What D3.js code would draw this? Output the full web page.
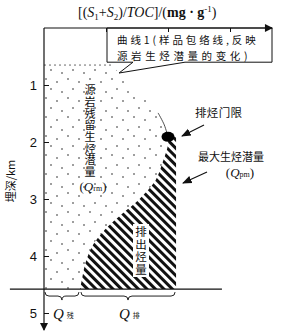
<!DOCTYPE html>
<html>
<head>
<meta charset="utf-8">
<script src="https://cdn.jsdelivr.net/npm/d3@7"></script>
<style>
  html, body { margin: 0; padding: 0; background: #fff; }
  #chart { width: 289px; height: 333px; }
  .cjk { font-family: "Noto Sans CJK SC", sans-serif; fill: #111; }
  .serif { font-family: "Liberation Serif", "DejaVu Serif", serif; fill: #111; }
  .vert { writing-mode: vertical-rl; text-orientation: upright; }
</style>
</head>
<body>
<div id="chart"></div>
<script>
// depth (km) of the points read along curve 1
var depthKm = [0.65, 0.79, 1.0, 1.23, 1.49, 1.70, 1.91, 2.05, 2.40, 2.67, 3.02, 3.25, 3.54, 3.84, 4.12, 4.42, 4.58];
// curve 1, (S1+S2)/TOC envelope in mg/g
var curve1 = [1.10, 1.21, 1.42, 1.66, 1.84, 1.94, 2.00, 2.00, 1.90, 1.80, 1.52, 1.27, 0.98, 0.77, 0.67, 0.61, 0.58];
// maximum potential Qpm and the expulsion threshold
var qpmValue = 2.13;
var thresholdDepth = 1.91;
var bottomDepth = 4.58;
var depthTicks = [1, 2, 3, 4, 5];
var valueTicks = [1, 2, 3];

var chart = (function() {
  var w = 289, h = 333;

  var x = d3.scaleLinear().domain([0, 3.6]).range([44, 267.2]);
  var y = d3.scaleLinear().domain([0, 5]).range([28, 313]);

  var rows = depthKm.map((d, i) => ({depth: d, value: curve1[i]}));
  var below = rows.filter(d => d.depth >= thresholdDepth);
  var above = rows.filter(d => d.depth >= 1.45 && d.depth <= thresholdDepth);

  var svg = d3.select("#chart").append("svg")
    .attr("width", w)
    .attr("height", h);

  var defs = svg.append("defs");

  // stipple for the residual part
  var dots = defs.append("pattern")
    .attr("id", "dots")
    .attr("patternUnits", "userSpaceOnUse")
    .attr("width", 22)
    .attr("height", 19);
  [[2, 3], [13, 6], [7, 13], [18, 16]].forEach(p => {
    dots.append("circle").attr("cx", p[0]).attr("cy", p[1]).attr("r", 0.8).attr("fill", "#222");
  });

  // diagonal hatch for the expelled part
  defs.append("pattern")
    .attr("id", "hatch")
    .attr("patternUnits", "userSpaceOnUse")
    .attr("width", 6)
    .attr("height", 6)
    .attr("patternTransform", "rotate(-45)")
    .append("rect")
      .attr("width", 3)
      .attr("height", 6)
      .attr("fill", "#111");

  defs.append("marker")
    .attr("id", "arr")
    .attr("viewBox", "0 0 10 10")
    .attr("refX", 9).attr("refY", 5)
    .attr("markerWidth", 8).attr("markerHeight", 8)
    .attr("orient", "auto")
    .append("path").attr("d", "M0,1L10,5L0,9Z").attr("fill", "#111");

  defs.append("marker")
    .attr("id", "axarr")
    .attr("viewBox", "0 0 10 10")
    .attr("refX", 9).attr("refY", 5)
    .attr("markerWidth", 9).attr("markerHeight", 8)
    .attr("markerUnits", "userSpaceOnUse")
    .attr("orient", "auto")
    .append("path").attr("d", "M0,0L10,5L0,10Z").attr("fill", "#111");

  // areas
  var stippleArea = d3.area()
    .curve(d3.curveCatmullRom)
    .y(d => y(d.depth))
    .x0(x(0))
    .x1(d => x(d.value));

  var hatchArea = d3.area()
    .curve(d3.curveCatmullRom)
    .y(d => y(d.depth))
    .x0(d => x(d.value))
    .x1(x(qpmValue));

  svg.append("path")
    .attr("d", stippleArea(rows))
    .attr("fill", "url(#dots)");

  svg.append("line")
    .attr("x1", x(0)).attr("x2", x(curve1[0]))
    .attr("y1", y(depthKm[0])).attr("y2", y(depthKm[0]))
    .attr("stroke", "#444")
    .attr("stroke-width", 0.8)
    .attr("stroke-dasharray", "2,3");

  svg.append("path")
    .attr("d", hatchArea(below))
    .attr("fill", "url(#hatch)");

  // thin bit of curve 1 above the threshold
  svg.append("path")
    .attr("d", d3.line().curve(d3.curveCatmullRom).x(d => x(d.value)).y(d => y(d.depth))(above))
    .attr("fill", "none")
    .attr("stroke", "#222")
    .attr("stroke-width", 0.8);

  // expelled label on a white strip
  svg.append("rect")
    .attr("x", 133).attr("y", 224)
    .attr("width", 16).attr("height", 53)
    .attr("fill", "#fff");
  svg.append("text").attr("class", "cjk vert")
    .attr("x", 141).attr("y", 226)
    .attr("font-size", 11.5)
    .attr("letter-spacing", 1)
    .text("排出烃量");

  // residual label
  svg.append("text").attr("class", "cjk vert")
    .attr("x", 90).attr("y", 84.5)
    .attr("font-size", 11)
    .attr("letter-spacing", 0.7)
    .text("源岩残留生烃潜量");
  var qrm = svg.append("text").attr("class", "serif")
    .attr("x", 93).attr("y", 191)
    .attr("text-anchor", "middle")
    .attr("font-size", 13);
  qrm.append("tspan").text("(");
  qrm.append("tspan").attr("font-style", "italic").text("Q");
  qrm.append("tspan").attr("font-size", 8).text("rm");
  qrm.append("tspan").text(")");

  // bottom line and braces
  var yb = y(bottomDepth);
  svg.append("line")
    .attr("x1", x(-0.55)).attr("x2", x(2.87))
    .attr("y1", yb).attr("y2", yb)
    .attr("stroke", "#111")
    .attr("stroke-width", 1.2);

  var brace = function(x0, x1, yy) {
    var m = (x0 + x1) / 2;
    return "M" + x0 + "," + (yy - 4)
      + "Q" + x0 + "," + yy + " " + (x0 + 4) + "," + yy
      + "L" + (m - 4) + "," + yy
      + "Q" + m + "," + yy + " " + m + "," + (yy + 4)
      + "Q" + m + "," + yy + " " + (m + 4) + "," + yy
      + "L" + (x1 - 4) + "," + yy
      + "Q" + x1 + "," + yy + " " + x1 + "," + (yy - 4);
  };
  var xr = x(curve1[curve1.length - 1]);
  svg.append("path")
    .attr("d", brace(x(0) + 1, xr - 1, yb + 7) + brace(xr + 1, x(qpmValue) - 1, yb + 7))
    .attr("fill", "none")
    .attr("stroke", "#222")
    .attr("stroke-width", 1);

  var qLabel = function(xx, sub) {
    var t = svg.append("text").attr("class", "serif")
      .attr("x", xx).attr("y", 319)
      .attr("font-size", 15);
    t.append("tspan").attr("font-style", "italic").text("Q");
    t.append("tspan").attr("class", "cjk").attr("font-size", 7).attr("dx", 3).attr("dy", -1).text(sub);
  };
  qLabel(53, "残");
  qLabel(119, "排");

  // threshold dot
  svg.append("ellipse")
    .attr("cx", x(curve1[6])).attr("cy", y(thresholdDepth))
    .attr("rx", 6.5).attr("ry", 5)
    .attr("fill", "#000");

  // callout box for curve 1
  var bt = y(0), bb = y(0.6);
  svg.append("path")
    .attr("d", "M107," + bt + "H272V" + bb + "H185L" + x(curve1[1]) + "," + y(depthKm[1]) + "L133," + bb + "H107Z")
    .attr("fill", "#fff")
    .attr("stroke", "#111")
    .attr("stroke-width", 1);
  var note = svg.append("text").attr("class", "cjk")
    .attr("font-size", 10.5);
  note.append("tspan")
    .attr("x", 117).attr("y", 44)
    .attr("letter-spacing", 2.9)
    .text("曲线1(样品包络线,反映");
  note.append("tspan")
    .attr("x", 117).attr("y", 59.5)
    .attr("letter-spacing", 3.6)
    .text("源岩生烃潜量的变化)");

  // axes
  svg.append("line")
    .attr("x1", x(0)).attr("x2", x(3.68))
    .attr("y1", y(0)).attr("y2", y(0))
    .attr("stroke", "#111").attr("stroke-width", 1.2)
    .attr("marker-end", "url(#axarr)");
  svg.append("line")
    .attr("x1", x(0)).attr("x2", x(0))
    .attr("y1", y(0)).attr("y2", y(5.3))
    .attr("stroke", "#111").attr("stroke-width", 1.2)
    .attr("marker-end", "url(#axarr)");

  var xAxis = svg.append("g")
    .attr("transform", "translate(0," + y(0) + ")")
    .call(d3.axisTop(x).tickValues(valueTicks).tickSize(-4).tickFormat(""));
  xAxis.select(".domain").remove();
  xAxis.selectAll("line").attr("stroke", "#111");

  var yAxis = svg.append("g")
    .attr("transform", "translate(" + x(0) + ",0)")
    .call(d3.axisLeft(y).tickValues(depthTicks).tickFormat(d3.format("d"))
      .tickSizeInner(-5).tickSizeOuter(0).tickPadding(7));
  yAxis.select(".domain").remove();
  yAxis.selectAll("line").attr("stroke", "#111");
  yAxis.selectAll("text")
    .attr("font-family", "Liberation Sans, DejaVu Sans, sans-serif")
    .attr("font-size", 13)
    .attr("fill", "#111");

  svg.append("text").attr("class", "cjk")
    .attr("transform", "translate(10,181) rotate(-90)")
    .attr("text-anchor", "middle")
    .attr("dominant-baseline", "central")
    .attr("font-size", 11)
    .text("埋深/km");

  // axis title
  var title = svg.append("text").attr("class", "serif")
    .attr("x", 78).attr("y", 17)
    .attr("font-size", 14);
  var parts = [["[(", ""], ["S", "i"], ["1", "sub"], ["+", ""], ["S", "i"], ["2", "sub"],
               [")/", ""], ["TOC", "i"], ["]/(", ""], ["mg · g", "b"], ["-1", "sup"], [")", ""]];
  var shift = 0;
  parts.forEach(p => {
    var want = p[1] == "sub" ? 3 : p[1] == "sup" ? -5 : 0;
    var ts = title.append("tspan").attr("dy", want - shift).text(p[0]);
    shift = want;
    if (p[1] == "i") ts.attr("font-style", "italic");
    if (p[1] == "b") ts.attr("font-weight", "bold");
    if (p[1] == "sub" || p[1] == "sup") ts.attr("font-size", 9);
  });

  // annotations on the right
  svg.append("text").attr("class", "cjk")
    .attr("x", 195).attr("y", 117)
    .attr("font-size", 11.5)
    .attr("textLength", 47)
    .attr("lengthAdjust", "spacing")
    .text("排烃门限");
  svg.append("line")
    .attr("x1", 204).attr("y1", 125)
    .attr("x2", 182).attr("y2", 136)
    .attr("stroke", "#111").attr("stroke-width", 1.2)
    .attr("marker-end", "url(#arr)");

  svg.append("text").attr("class", "cjk")
    .attr("x", 198).attr("y", 161)
    .attr("font-size", 11)
    .attr("textLength", 66)
    .attr("lengthAdjust", "spacing")
    .text("最大生烃潜量");
  var qpm = svg.append("text").attr("class", "serif")
    .attr("x", 240).attr("y", 177)
    .attr("text-anchor", "middle")
    .attr("font-size", 13);
  qpm.append("tspan").text("(");
  qpm.append("tspan").attr("font-style", "italic").text("Q");
  qpm.append("tspan").attr("font-size", 8).text("pm");
  qpm.append("tspan").text(")");
  svg.append("line")
    .attr("x1", 207).attr("y1", 172)
    .attr("x2", 183).attr("y2", 183)
    .attr("stroke", "#111").attr("stroke-width", 1.2)
    .attr("marker-end", "url(#arr)");

  return {svg: svg};
})();
</script>
</body>
</html>
